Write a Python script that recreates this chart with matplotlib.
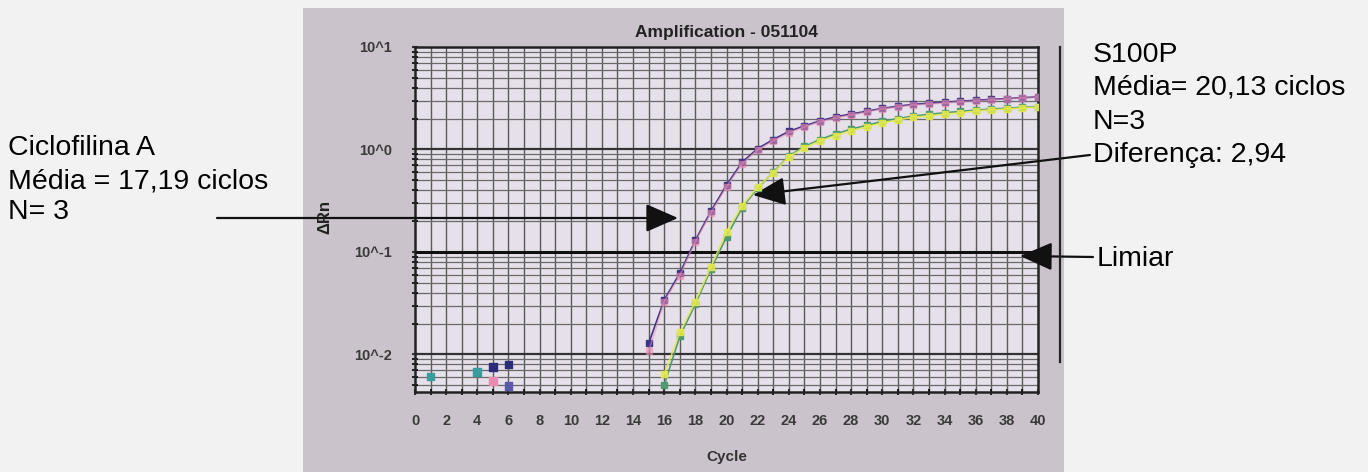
import numpy as np
import matplotlib.pyplot as plt
from matplotlib.patches import Rectangle

plt.rcParams['font.family'] = ['Liberation Sans', 'DejaVu Sans']

# %% Data
cyc_cic = np.arange(15, 41)
cic_pink = [0.0107, 0.0328, 0.0587, 0.126, 0.241, 0.432, 0.724, 0.99, 1.21, 1.45,
            1.66, 1.86, 2.03, 2.17, 2.32, 2.49, 2.60, 2.72, 2.78, 2.84,
            2.91, 2.97, 3.04, 3.11, 3.18, 3.25]
cic_navy = [0.0128, 0.034, 0.062, 0.13, 0.25, 0.45, 0.75, 1.02, 1.25, 1.50,
            1.70, 1.90, 2.08, 2.22, 2.36, 2.52, 2.64, 2.76, 2.83, 2.90,
            2.96, 3.02, 3.08, 3.14, 3.20, 3.26]

cyc_s100 = np.arange(16, 41)
s100_yellow = [0.0064, 0.0164, 0.0328, 0.0719, 0.158, 0.282, 0.432, 0.592, 0.847, 1.04,
               1.21, 1.36, 1.52, 1.66, 1.82, 1.94, 2.07, 2.12, 2.22, 2.27,
               2.38, 2.43, 2.49, 2.54, 2.60]
s100_green = [0.0050, 0.0150, 0.031, 0.068, 0.14, 0.27, 0.42, 0.60, 0.86, 1.07,
              1.25, 1.42, 1.58, 1.72, 1.88, 2.00, 2.12, 2.20, 2.28, 2.35,
              2.42, 2.48, 2.53, 2.58, 2.62]

# early noise points
base_cyc = [1, 4, 5, 5, 6, 6]
base_val = [0.0061, 0.0067, 0.0075, 0.0055, 0.0080, 0.0049]
base_col = ['#3a9c9c', '#3a9c9c', '#2c2c7a', '#e98ab0', '#2c2c7a', '#5a5aa8']

threshold = 0.1
xticks = np.arange(0, 41, 2)
yticks = [0.01, 0.1, 1, 10]
ylabels = ['10^-2', '10^-1', '10^0', '10^1']

# %% Figure
W, H = 1368, 472
fig = plt.figure(figsize=(W / 100, H / 100), dpi=100, facecolor='#f2f2f2')

# grey panel of the scanned picture
fig.patches.append(Rectangle((303 / W, 0), (1064 - 303) / W, (472 - 8) / H,
                             transform=fig.transFigure, facecolor='#cbc3cb',
                             edgecolor='none', zorder=-5))

ax = fig.add_axes([415 / W, 1 - 392 / H, 623 / W, 345 / H])
ax.set_facecolor('#e6e0ea')
ax.set_yscale('log')
ax.set_xlim(0, 40)
ax.set_ylim(0.0043, 10)

# grid
for c in range(1, 40):
    ax.axvline(c, color='#5a5a5a', lw=1.0, zorder=1)
for dec in [0.001, 0.01, 0.1, 1]:
    for m in range(2, 10):
        v = dec * m
        if 0.0043 < v < 10:
            ax.axhline(v, color='#6a6a6a', lw=0.9, zorder=1)
for v in [0.01, 1]:
    ax.axhline(v, color='#333333', lw=1.6, zorder=1)
ax.axhline(threshold, color='#111111', lw=2.2, zorder=2)

# data
ax.plot(cyc_cic, cic_navy, '-s', color='#3b3488', ms=5, lw=1.2, zorder=4)
ax.plot(cyc_cic, cic_pink, '-s', color='#ec8cb2', ms=5, lw=1.2, zorder=4, alpha=0.55)
ax.plot(cyc_s100, s100_green, '-s', color='#4f9a72', ms=5, lw=1.2, zorder=4)
ax.plot(cyc_s100, s100_yellow, '-s', color='#e4ea4a', ms=5, lw=1.2, zorder=4, alpha=0.85)
ax.scatter(base_cyc, base_val, marker='s', s=30, c=base_col, zorder=4)

# axes
for sp in ax.spines.values():
    sp.set_color('#222222')
    sp.set_linewidth(1.8)
ax.set_xticks(xticks)
ax.set_xticks(np.arange(0, 41, 1), minor=True)
ax.set_yticks(yticks)
ax.set_yticklabels(ylabels)
ax.tick_params(axis='both', colors='#333333', labelsize=10.5, width=1.5, length=5,
               direction='inout')
ax.tick_params(axis='x', which='minor', length=4, width=1.2, direction='inout')
ax.tick_params(axis='y', which='minor', length=4, width=1.2, direction='inout')
ax.tick_params(axis='y', which='minor', labelleft=False)
for lab in ax.get_xticklabels() + ax.get_yticklabels():
    lab.set_fontweight('bold')
    lab.set_color('#3a3a3a')
ax.tick_params(axis='x', pad=13)
ax.tick_params(axis='y', pad=14)

ax.set_title('Amplification - 051104', fontsize=12.5, fontweight='bold', color='#222222',
             pad=7)
ax.set_xlabel('Cycle', fontsize=11, fontweight='bold', color='#333333', labelpad=16)
fig.text(325 / W, 1 - 217 / H, 'ΔRn', rotation=90, fontsize=12, fontweight='bold',
         color='#222222', ha='center', va='center')

# bracket on the right
fig.add_artist(plt.Line2D([1060 / W, 1060 / W], [1 - 47 / H, 1 - 362 / H],
                          transform=fig.transFigure, color='#222222', lw=1.6))

# annotations
fs = 20.5
fig.text(8 / W, 1 - 148 / H, 'Ciclofilina A', fontsize=fs, va='center')
fig.text(8 / W, 1 - 181 / H, 'Média = 17,19 ciclos', fontsize=fs, va='center')
fig.text(8 / W, 1 - 212 / H, 'N= 3', fontsize=fs, va='center')

fig.text(1093 / W, 1 - 55 / H, 'S100P', fontsize=fs, va='center')
fig.text(1093 / W, 1 - 88 / H, 'Média= 20,13 ciclos', fontsize=fs, va='center')
fig.text(1093 / W, 1 - 122 / H, 'N=3', fontsize=fs, va='center')
fig.text(1093 / W, 1 - 155 / H, 'Diferença: 2,94', fontsize=fs, va='center')
fig.text(1097 / W, 1 - 259 / H, 'Limiar', fontsize=fs, va='center')

arw = dict(arrowstyle='-|>,head_length=0.8,head_width=0.35', color='#111111',
           lw=1.6, mutation_scale=25, shrinkA=0, shrinkB=0)
ax.annotate('', xy=(678, H - 218), xytext=(217, H - 218),
            xycoords='figure pixels', textcoords='figure pixels', arrowprops=arw)
ax.annotate('', xy=(753, H - 195), xytext=(1090, H - 155),
            xycoords='figure pixels', textcoords='figure pixels', arrowprops=arw)
ax.annotate('', xy=(1020, H - 256), xytext=(1093, H - 257),
            xycoords='figure pixels', textcoords='figure pixels', arrowprops=arw)

plt.savefig('out.png', dpi=100, facecolor=fig.get_facecolor())
